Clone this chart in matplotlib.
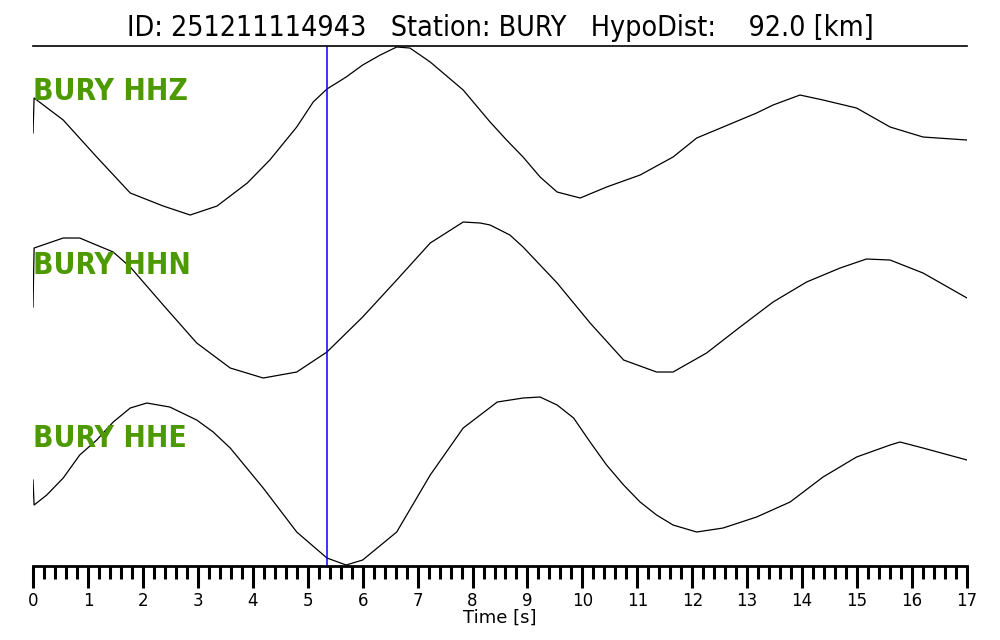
import matplotlib
matplotlib.use("Agg")
import matplotlib.pyplot as plt
from matplotlib.ticker import MultipleLocator

# event / station info
event_id = "251211114943"
station = "BURY"
hypo_dist = 92.0
pick_time = 5.35

channels = ["HHZ", "HHN", "HHE"]

# amplitudes (arbitrary units, up = positive)
hhz_t = [0, 0.02, 0.55, 1.16, 1.77, 2.37, 2.86, 3.35, 3.9, 4.31, 4.8, 5.1, 5.35,
         5.7, 6.0, 6.32, 6.62, 6.86, 7.23, 7.83, 8.32, 8.62, 8.92, 9.23, 9.54,
         9.96, 10.44, 11.05, 11.65, 12.08, 12.56, 13.17, 13.47, 13.96, 14.38,
         14.99, 15.6, 16.2, 17.0]
hhz_a = [-2, 33, 11, -26, -62, -75, -84, -75, -52, -29, 4, 29, 42,
         54, 66, 76, 84, 83, 69, 41, 9, -9, -26, -46, -61,
         -67, -56, -44, -26, -7, 4, 18, 26, 36, 31,
         23, 4, -6, -9]

hhn_t = [0, 0.02, 0.55, 0.85, 1.46, 1.77, 2.37, 2.98, 3.59, 4.19, 4.8, 5.35,
         6.0, 6.62, 7.23, 7.83, 8.14, 8.32, 8.68, 8.92, 9.54, 10.14, 10.75,
         11.35, 11.65, 12.26, 12.87, 13.47, 14.08, 14.69, 15.17, 15.6, 16.2, 17.0]
hhn_a = [-7, 52, 62, 62, 48, 33, -5, -43, -68, -78, -72, -52,
         -17, 20, 57, 78, 77, 75, 65, 53, 17, -23, -60,
         -72, -72, -53, -27, -2, 18, 32, 41, 40, 27, 2]

hhe_t = [0, 0.02, 0.25, 0.55, 0.85, 1.16, 1.46, 1.77, 2.07, 2.49, 2.98, 3.28,
         3.59, 4.19, 4.8, 5.35, 5.7, 6.0, 6.62, 7.23, 7.83, 8.45, 8.92, 9.23,
         9.54, 9.84, 10.14, 10.44, 10.75, 11.05, 11.35, 11.65, 12.08, 12.56,
         13.17, 13.78, 14.38, 14.99, 15.6, 15.78, 16.2, 17.0]
hhe_a = [1, -24, -14, 3, 26, 41, 59, 73, 78, 74, 61, 49,
         33, -7, -51, -77, -84, -79, -51, 6, 53, 79, 83, 84,
         76, 63, 39, 16, -4, -21, -34, -44, -51, -47,
         -36, -21, 4, 24, 36, 39, 33, 21]

traces = [(hhz_t, hhz_a), (hhn_t, hhn_a), (hhe_t, hhe_a)]
offsets = [435, 266, 85]
label_y = [475, 301, 128]

fig = plt.figure(figsize=(10, 6.4), dpi=100)
ax = fig.add_axes([0.033, 0.1156, 0.934, 0.8125])

for (t, a), off in zip(traces, offsets):
    ax.plot(t, [off + v for v in a], color="black", lw=0.9)

for ch, ly in zip(channels, label_y):
    ax.text(0, ly, f"{station} {ch}", color="#4c9900", fontsize=21.5,
            fontweight="bold", fontstretch="condensed",
            family=["DejaVu Sans Condensed", "DejaVu Sans"],
            va="center", ha="left")

ax.axvline(pick_time, color="#0000ff", lw=1.1)

ax.set_xlim(0, 17)
ax.set_ylim(0, 520)
ax.spines["left"].set_visible(False)
ax.spines["right"].set_visible(False)
ax.spines["top"].set_linewidth(1.2)
ax.spines["bottom"].set_linewidth(2)
ax.set_yticks([])
ax.xaxis.set_major_locator(MultipleLocator(1))
ax.xaxis.set_minor_locator(MultipleLocator(0.2))
ax.tick_params(axis="x", which="major", length=16, width=2.2, labelsize=12, pad=3)
ax.tick_params(axis="x", which="minor", length=9, width=2.2)
ax.set_xlabel("Time [s]", fontsize=13, labelpad=-1)

fig.text(0.5, 0.957,
         f"ID: {event_id}   Station: {station}   HypoDist:    {hypo_dist:.1f} [km]",
         ha="center", va="center", fontsize=20.5, fontstretch="condensed",
         family=["DejaVu Sans Condensed", "DejaVu Sans"])

fig.savefig("out.png", dpi=100)
